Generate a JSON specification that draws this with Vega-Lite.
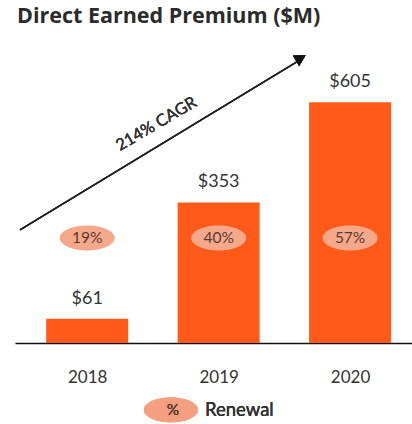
{
  "$schema": "https://vega.github.io/schema/vega-lite/v6.json",
  "autosize": "none",
  "padding": {"left": 15, "top": 50, "right": 0, "bottom": 81},
  "width": 397,
  "height": 293,
  "background": "white",
  "title": {
    "text": "Direct Earned Premium ($M)",
    "anchor": "start",
    "frame": "group",
    "font": "Open Sans",
    "fontSize": 21.5,
    "fontWeight": "bold",
    "color": "#2b2b2b",
    "offset": 23,
    "dx": 2
  },
  "config": {"view": {"stroke": null}, "font": "Lato"},
  "data": {
    "values": [
      {"year": 2018, "premium": 61, "label": "$61", "renewal": "19%"},
      {"year": 2019, "premium": 353, "label": "$353", "renewal": "40%"},
      {"year": 2020, "premium": 605, "label": "$605", "renewal": "57%"}
    ]
  },
  "layer": [
    {
      "mark": {"type": "bar", "width": 82, "color": "#FF5A1A", "clip": false},
      "encoding": {
        "x": {
          "field": "year",
          "type": "quantitative",
          "scale": {"domain": [2017.489, 2020.433], "nice": false, "zero": false},
          "axis": {
            "title": null,
            "values": [2018, 2019, 2020],
            "format": "d",
            "ticks": false,
            "grid": false,
            "domainColor": "#111111",
            "domainWidth": 1.5,
            "labelFont": "Lato",
            "labelFontSize": 17,
            "labelFontWeight": 400,
            "labelColor": "#333333",
            "labelPadding": 26
          }
        },
        "y": {
          "field": "premium",
          "type": "quantitative",
          "scale": {"domain": [0, 736], "nice": false},
          "axis": null
        }
      }
    },
    {
      "mark": {"type": "text", "fontSize": 18, "fontWeight": 400, "color": "#333333", "dy": -20, "font": "Lato"},
      "encoding": {
        "x": {"field": "year", "type": "quantitative"},
        "y": {"field": "premium", "type": "quantitative"},
        "text": {"field": "label"}
      }
    },
    {
      "mark": {
        "type": "point",
        "shape": "M -1 0 A 1 0.4545 0 1 0 1 0 A 1 0.4545 0 1 0 -1 0 Z",
        "size": 3025,
        "filled": true,
        "color": "#F6A98A",
        "opacity": 1
      },
      "encoding": {
        "x": {"field": "year", "type": "quantitative"},
        "y": {"datum": 264}
      }
    },
    {
      "mark": {"type": "text", "fontSize": 15.5, "fontWeight": 400, "color": "#5a3a30", "font": "Lato"},
      "encoding": {
        "x": {"field": "year", "type": "quantitative"},
        "y": {"datum": 264},
        "text": {"field": "renewal"}
      }
    },
    {
      "mark": {"type": "rule", "color": "#222222", "strokeWidth": 1.5, "clip": false},
      "encoding": {
        "x": {"datum": 2017.489},
        "y": {"datum": 284},
        "x2": {"datum": 2019.62},
        "y2": {"datum": 711}
      }
    },
    {
      "mark": {
        "type": "point",
        "shape": "M 0 0 L -1 -0.55 L -1 0.55 Z",
        "size": 500,
        "filled": true,
        "color": "#111111",
        "opacity": 1,
        "angle": 329.5
      },
      "encoding": {
        "x": {"datum": 2019.662},
        "y": {"datum": 723}
      }
    },
    {
      "mark": {"type": "text", "fontSize": 16.5, "fontWeight": 400, "color": "#333333", "angle": 329.5, "font": "Lato"},
      "encoding": {
        "x": {"datum": 2018.527},
        "y": {"datum": 550},
        "text": {"value": "214% CAGR"}
      }
    },
    {
      "mark": {
        "type": "point",
        "shape": "M -1 0 A 1 0.4545 0 1 0 1 0 A 1 0.4545 0 1 0 -1 0 Z",
        "size": 2916,
        "filled": true,
        "color": "#F4A080",
        "opacity": 1,
        "clip": false
      },
      "encoding": {
        "x": {"datum": 2018.637},
        "y": {"datum": -168}
      }
    },
    {
      "mark": {"type": "text", "fontSize": 15.5, "fontWeight": 400, "color": "#5a3a30", "font": "Lato", "clip": false},
      "encoding": {
        "x": {"datum": 2018.652},
        "y": {"datum": -168},
        "text": {"value": "%"}
      }
    },
    {
      "mark": {"type": "text", "fontSize": 18.5, "fontWeight": 400, "color": "#333333", "align": "left", "font": "Lato", "clip": false},
      "encoding": {
        "x": {"datum": 2018.896},
        "y": {"datum": -168},
        "text": {"value": "Renewal"}
      }
    }
  ]
}
